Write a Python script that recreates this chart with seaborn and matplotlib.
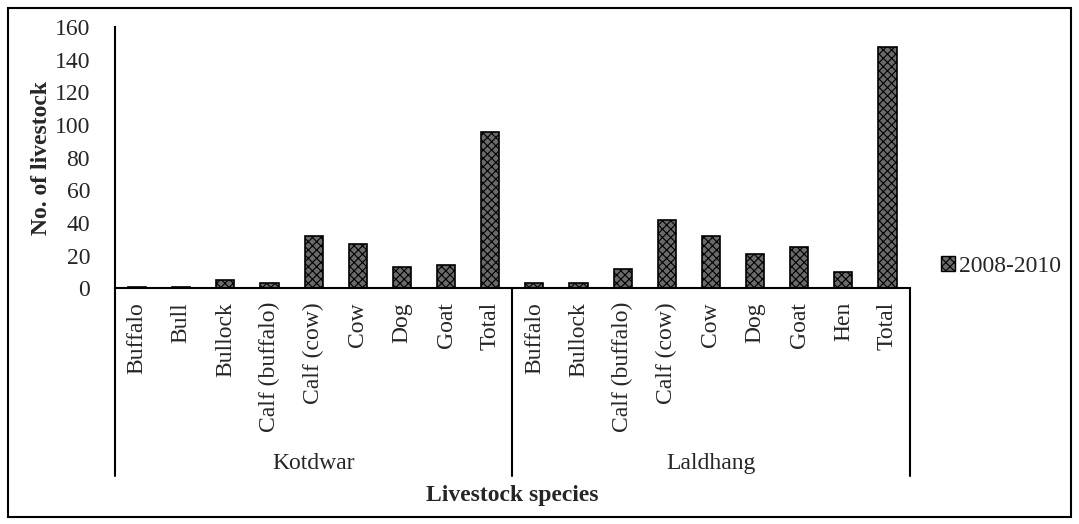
import pandas as pd
import numpy as np
import matplotlib.pyplot as plt
import seaborn as sns
from matplotlib.patches import Patch, Rectangle

# values
sites = ["Kotdwar", "Laldhang"]
kotdwar_species = ["Buffalo", "Bull", "Bullock", "Calf (buffalo)", "Calf (cow)",
                   "Cow", "Dog", "Goat", "Total"]
kotdwar_counts = [1, 1, 5, 3, 32, 27, 13, 14, 96]
laldhang_species = ["Buffalo", "Bullock", "Calf (buffalo)", "Calf (cow)", "Cow",
                    "Dog", "Goat", "Hen", "Total"]
laldhang_counts = [3, 3, 12, 42, 32, 21, 25, 10, 148]
series_label = "2008-2010"
y_ticks = [0, 20, 40, 60, 80, 100, 120, 140, 160]

rows = []
for site, spp, cnt in [(sites[0], kotdwar_species, kotdwar_counts),
                       (sites[1], laldhang_species, laldhang_counts)]:
    for s, c in zip(spp, cnt):
        rows.append({"site": site, "species": s, "slot": site + " | " + s, "count": c})
df = pd.DataFrame(rows)

sns.set_style("white")
plt.rcParams["font.family"] = ["Liberation Serif", "DejaVu Serif"]
plt.rcParams["hatch.linewidth"] = 0.8

fig = plt.figure(figsize=(10.79, 5.24), dpi=100)
ax = fig.add_axes([0.1066, 0.450, 0.7364, 0.498])

bar_face = "#6a6a6a"
sns.barplot(data=df, x="slot", y="count", order=list(df["slot"]), color=bar_face,
            width=0.41, ax=ax, saturation=1, edgecolor="black", linewidth=1.2)
for p in ax.patches:
    p.set_hatch("xxxx")

n = len(df)
ax.set_xlim(-0.5, n - 0.5)
ax.set_ylim(0, 160)
ax.set_yticks(y_ticks)
ax.set_yticklabels([str(t) for t in y_ticks], fontsize=17)
ax.set_xticks(range(n))
ax.set_xticklabels(df["species"], rotation=90, fontsize=17, va="top")
ax.tick_params(axis="both", length=0)
ax.tick_params(axis="x", pad=10)
ax.tick_params(axis="y", pad=18)

for side in ["top", "right"]:
    ax.spines[side].set_visible(False)
for side in ["left", "bottom"]:
    ax.spines[side].set_color("black")
    ax.spines[side].set_linewidth(1.5)

ax.set_xlabel("")
ax.set_ylabel("No. of livestock", fontsize=17, fontweight="bold")
ax.yaxis.set_label_coords(-0.079, 0.5)

# group separators and group labels under the category labels
trans = ax.get_xaxis_transform()
bounds = [-0.5, len(kotdwar_species) - 0.5, n - 0.5]
for b in bounds:
    ax.plot([b, b], [0, -0.72], transform=trans, color="black", lw=1.5,
            clip_on=False)
for i, site in enumerate(sites):
    mid = (bounds[i] + bounds[i + 1]) / 2
    ax.text(mid, -0.67, site, transform=trans, ha="center", va="center",
            fontsize=17)
ax.text(0.5, -0.795, "Livestock species", transform=ax.transAxes, ha="center",
        va="center", fontsize=17, fontweight="bold")

handle = Patch(facecolor=bar_face, edgecolor="black", hatch="xxxx", linewidth=1)
fig.legend(handles=[handle], labels=[series_label], loc="center left",
           bbox_to_anchor=(0.852, 0.492), frameon=False, fontsize=17,
           handlelength=0.6, handleheight=0.6, handletextpad=0.2)

fig.patches.append(Rectangle((8 / 1079, 7 / 524), 1063 / 1079, 509 / 524,
                             transform=fig.transFigure, fill=False,
                             edgecolor="black", linewidth=1.5))

fig.savefig("out.png", dpi=100)
